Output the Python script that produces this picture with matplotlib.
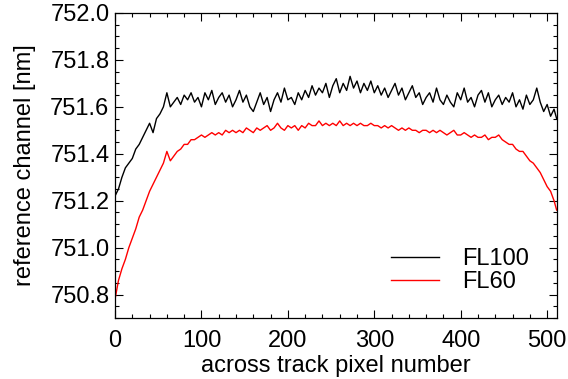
import matplotlib
matplotlib.use("Agg")
import matplotlib.pyplot as plt
import numpy as np
from matplotlib.ticker import MultipleLocator

plt.rcParams['font.family'] = ['Liberation Sans', 'DejaVu Sans']

x_fl = list(range(0, 512, 4)) + [511]

fl100 = [751.22, 751.25, 751.30, 751.34, 751.36, 751.38, 751.42, 751.44, 751.47, 751.50,
         751.53, 751.49, 751.55, 751.57, 751.60, 751.66, 751.60, 751.62, 751.64, 751.61,
         751.65, 751.63, 751.66, 751.62, 751.64, 751.60, 751.66, 751.63, 751.67, 751.61,
         751.64, 751.66, 751.62, 751.65, 751.60, 751.63, 751.67, 751.62, 751.65, 751.60,
         751.58, 751.62, 751.66, 751.61, 751.64, 751.58, 751.63, 751.66, 751.62, 751.68,
         751.63, 751.64, 751.61, 751.66, 751.63, 751.67, 751.64, 751.69, 751.65, 751.68,
         751.66, 751.70, 751.64, 751.69, 751.72, 751.66, 751.70, 751.67, 751.73, 751.68,
         751.71, 751.66, 751.70, 751.67, 751.71, 751.66, 751.69, 751.65, 751.68, 751.64,
         751.67, 751.70, 751.65, 751.68, 751.63, 751.66, 751.69, 751.64, 751.66, 751.61,
         751.64, 751.66, 751.62, 751.68, 751.63, 751.61, 751.65, 751.62, 751.60, 751.66,
         751.63, 751.68, 751.62, 751.64, 751.60, 751.65, 751.67, 751.62, 751.66, 751.60,
         751.63, 751.65, 751.61, 751.64, 751.62, 751.66, 751.60, 751.63, 751.59, 751.65,
         751.61, 751.63, 751.68, 751.62, 751.58, 751.61, 751.56, 751.59, 751.55]

fl60 = [750.78, 750.86, 750.91, 750.95, 751.00, 751.04, 751.08, 751.13, 751.16, 751.20,
        751.24, 751.27, 751.30, 751.33, 751.36, 751.41, 751.37, 751.39, 751.41, 751.42,
        751.44, 751.44, 751.46, 751.46, 751.47, 751.48, 751.47, 751.48, 751.49, 751.48,
        751.49, 751.48, 751.50, 751.49, 751.50, 751.49, 751.50, 751.49, 751.51, 751.50,
        751.49, 751.51, 751.50, 751.51, 751.52, 751.50, 751.51, 751.53, 751.51, 751.50,
        751.52, 751.51, 751.52, 751.50, 751.52, 751.51, 751.53, 751.52, 751.52, 751.54,
        751.52, 751.53, 751.52, 751.53, 751.52, 751.54, 751.52, 751.53, 751.52, 751.53,
        751.52, 751.53, 751.52, 751.52, 751.53, 751.52, 751.52, 751.51, 751.52, 751.51,
        751.52, 751.51, 751.50, 751.51, 751.50, 751.51, 751.50, 751.50, 751.49, 751.50,
        751.50, 751.49, 751.50, 751.49, 751.50, 751.49, 751.48, 751.49, 751.50, 751.48,
        751.48, 751.49, 751.48, 751.47, 751.48, 751.47, 751.47, 751.48, 751.46, 751.47,
        751.47, 751.48, 751.46, 751.45, 751.44, 751.44, 751.42, 751.41, 751.41, 751.39,
        751.37, 751.36, 751.34, 751.32, 751.29, 751.26, 751.24, 751.20, 751.16]

fig = plt.figure(figsize=(5.68, 3.79), dpi=100)
ax = fig.add_axes([0.2025, 0.161, 0.7775, 0.8047])

ax.plot(x_fl, fl100, color='black', lw=1.0, label='FL100')
ax.plot(x_fl, fl60, color='red', lw=1.0, label='FL60')

ax.set_xlim(0, 511)
ax.set_ylim(750.7, 752.0)
ax.xaxis.set_major_locator(MultipleLocator(100))
ax.xaxis.set_minor_locator(MultipleLocator(20))
ax.yaxis.set_major_locator(MultipleLocator(0.2))
ax.yaxis.set_minor_locator(MultipleLocator(0.05))
ax.yaxis.set_major_formatter(matplotlib.ticker.FormatStrFormatter('%.1f'))
ax.tick_params(which='both', direction='in', top=True, right=True, labelsize=17, width=0.8)
ax.tick_params(which='major', length=6)
ax.tick_params(which='minor', length=3)
ax.tick_params(axis='x', which='major', pad=9)
ax.tick_params(axis='y', which='major', pad=4)
for s in ax.spines.values():
    s.set_linewidth(0.9)

ax.set_xlabel('across track pixel number', fontsize=17, labelpad=2)
ax.set_ylabel('reference channel [nm]', fontsize=17, labelpad=10)

leg = ax.legend(loc='center left', bbox_to_anchor=(0.625, 0.155), frameon=False,
                fontsize=17, handlelength=2.05, handletextpad=0.95, borderpad=0,
                borderaxespad=0, labelspacing=0.05)

fig.savefig('out.png', dpi=100)
